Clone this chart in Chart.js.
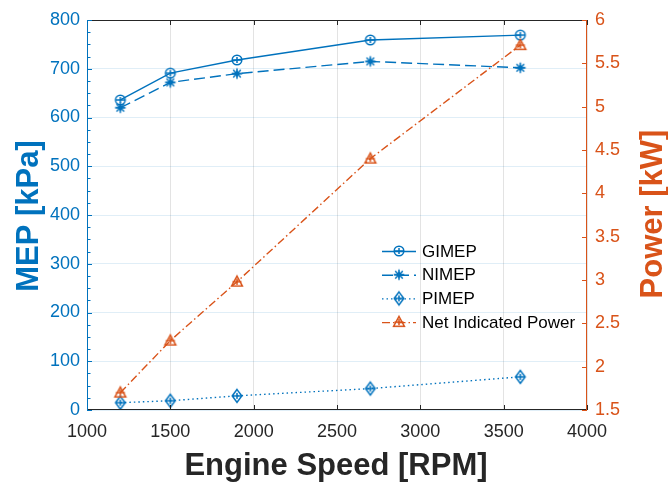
<!DOCTYPE html>
<html>
<head>
<meta charset="utf-8">
<script src="https://cdn.jsdelivr.net/npm/chart.js@4.4.1/dist/chart.umd.min.js"></script>
<style>
  html, body { margin: 0; padding: 0; background: #ffffff; }
  canvas { display: block; }
</style>
</head>
<body>
<canvas id="chart" width="668" height="483"></canvas>
<script>
// Engine speed sweep [RPM]
const engineSpeed = [1200, 1500, 1900, 2700, 3600];
// Mean effective pressures [kPa]
const gimep = [636, 691, 718, 759, 769];
const nimep = [620, 672, 690, 715, 702];
const pimep = [15, 19, 29, 44, 68];
// Net indicated power [kW]
const netPower = [1.70, 2.30, 2.98, 4.40, 5.71];

// Axis ranges and tick steps
const speedRange = [1000, 4000];
const speedStep = 500;
const mepRange = [0, 800];
const mepStep = 100;
const mepMinorStep = 25;
const powerRange = [1.5, 6];
const powerStep = 0.5;

const BLUE = '#0072BD';
const ORANGE = '#D95319';
const DARK = '#262626';
const FONT = "'Liberation Sans', Arial, Helvetica, sans-serif";

// Marker glyphs: outline shape with a small error-bar cross through the centre
function makeMarker(shape, color) {
  const c = document.createElement('canvas');
  c.width = 20; c.height = 20;
  const g = c.getContext('2d');
  g.strokeStyle = color;
  g.lineWidth = 1.5;
  g.lineJoin = 'miter';
  const cx = 10, cy = 10;
  g.beginPath();
  if (shape === 'circle') {
    g.arc(cx, cy, 4.8, 0, Math.PI * 2);
  } else if (shape === 'diamond') {
    g.moveTo(cx, cy - 6.4); g.lineTo(cx + 4.8, cy); g.lineTo(cx, cy + 6.4); g.lineTo(cx - 4.8, cy); g.closePath();
  } else if (shape === 'triangle') {
    g.moveTo(cx, cy - 5.6); g.lineTo(cx + 5.4, cy + 4.2); g.lineTo(cx - 5.4, cy + 4.2); g.closePath();
  } else if (shape === 'star') {
    const r = 5.3;
    g.moveTo(cx - r, cy); g.lineTo(cx + r, cy);
    g.moveTo(cx, cy - r); g.lineTo(cx, cy + r);
    const d = r * 0.72;
    g.moveTo(cx - d, cy - d); g.lineTo(cx + d, cy + d);
    g.moveTo(cx - d, cy + d); g.lineTo(cx + d, cy - d);
  }
  g.stroke();
  // error bar (very small extent) drawn through the marker
  g.beginPath();
  g.moveTo(cx - 4.5, cy); g.lineTo(cx + 4.5, cy);
  g.moveTo(cx, cy - 3); g.lineTo(cx, cy + 3);
  g.stroke();
  return c;
}

function pts(xs, ys) { return xs.map((x, i) => ({ x: x, y: ys[i] })); }

const datasets = [
  {
    label: 'GIMEP', data: pts(engineSpeed, gimep), yAxisID: 'y',
    borderColor: BLUE, borderWidth: 1.4, borderDash: [],
    pointStyle: makeMarker('circle', BLUE), order: 4
  },
  {
    label: 'NIMEP', data: pts(engineSpeed, nimep), yAxisID: 'y',
    borderColor: BLUE, borderWidth: 1.4, borderDash: [11, 5],
    pointStyle: makeMarker('star', BLUE), order: 3
  },
  {
    label: 'PIMEP', data: pts(engineSpeed, pimep), yAxisID: 'y',
    borderColor: BLUE, borderWidth: 1.4, borderDash: [1.5, 3],
    pointStyle: makeMarker('diamond', BLUE), order: 2
  },
  {
    label: 'Net Indicated Power', data: pts(engineSpeed, netPower), yAxisID: 'y2',
    borderColor: ORANGE, borderWidth: 1.4, borderDash: [8, 3, 1.5, 3],
    pointStyle: makeMarker('triangle', ORANGE), order: 1
  }
];
datasets.forEach(d => {
  d.fill = false; d.tension = 0; d.pointRadius = 6; d.pointHoverRadius = 6;
  d.backgroundColor = 'transparent';
});

// Inward ticks, box outline, axis titles and legend
const decorations = {
  id: 'decorations',
  afterDraw(chart) {
    const ctx = chart.ctx;
    const a = chart.chartArea;
    const sx = chart.scales.x, sy = chart.scales.y, sy2 = chart.scales.y2;
    ctx.save();
    ctx.lineWidth = 1;

    // top and bottom edges with speed ticks
    ctx.strokeStyle = DARK;
    ctx.beginPath();
    ctx.moveTo(a.left, a.top + 0.5); ctx.lineTo(a.right, a.top + 0.5);
    ctx.moveTo(a.left, a.bottom - 0.5); ctx.lineTo(a.right, a.bottom - 0.5);
    for (let v = speedRange[0]; v <= speedRange[1]; v += speedStep) {
      const px = Math.round(sx.getPixelForValue(v)) + 0.5;
      ctx.moveTo(px, a.bottom); ctx.lineTo(px, a.bottom - 5);
      ctx.moveTo(px, a.top); ctx.lineTo(px, a.top + 5);
    }
    ctx.stroke();

    // left MEP axis with minor ticks
    ctx.strokeStyle = BLUE;
    ctx.beginPath();
    ctx.moveTo(a.left + 0.5, a.top); ctx.lineTo(a.left + 0.5, a.bottom);
    for (let v = mepRange[0]; v <= mepRange[1] + 1e-9; v += mepMinorStep) {
      const py = Math.round(sy.getPixelForValue(v)) + 0.5;
      const len = (v % mepStep === 0) ? 5 : 3.5;
      ctx.moveTo(a.left, py); ctx.lineTo(a.left + len, py);
    }
    ctx.stroke();

    // right power axis
    ctx.strokeStyle = ORANGE;
    ctx.beginPath();
    ctx.moveTo(a.right - 0.5, a.top); ctx.lineTo(a.right - 0.5, a.bottom);
    for (let v = powerRange[0]; v <= powerRange[1] + 1e-9; v += powerStep) {
      const py = Math.round(sy2.getPixelForValue(v)) + 0.5;
      ctx.moveTo(a.right, py); ctx.lineTo(a.right - 5, py);
    }
    ctx.stroke();

    // axis titles
    ctx.font = 'bold 31px ' + FONT;
    ctx.textAlign = 'center';
    ctx.textBaseline = 'alphabetic';
    ctx.fillStyle = DARK;
    ctx.fillText('Engine Speed [RPM]', 336, 475);

    ctx.fillStyle = BLUE;
    ctx.save();
    ctx.translate(38, 216);
    ctx.rotate(-Math.PI / 2);
    ctx.fillText('MEP [kPa]', 0, 0);
    ctx.restore();

    ctx.fillStyle = ORANGE;
    ctx.save();
    ctx.translate(662, 214);
    ctx.rotate(-Math.PI / 2);
    ctx.fillText('Power [kW]', 0, 0);
    ctx.restore();

    // legend (no box) inside the plot area
    const lx0 = 382, lx1 = 416, tx = 422;
    let ly = 251;
    ctx.font = '17px ' + FONT;
    ctx.textAlign = 'left';
    ctx.textBaseline = 'middle';
    chart.data.datasets.forEach(ds => {
      ctx.strokeStyle = ds.borderColor;
      ctx.lineWidth = ds.borderWidth;
      ctx.setLineDash(ds.borderDash);
      ctx.beginPath();
      ctx.moveTo(lx0, ly + 0.5); ctx.lineTo(lx1, ly + 0.5);
      ctx.stroke();
      ctx.setLineDash([]);
      const img = ds.pointStyle;
      ctx.drawImage(img, (lx0 + lx1) / 2 - img.width / 2, ly - img.height / 2);
      ctx.fillStyle = '#000000';
      ctx.fillText(ds.label, tx, ly + 1);
      ly += 23.7;
    });
    ctx.restore();
  }
};

new Chart(document.getElementById('chart'), {
  type: 'line',
  data: { datasets: datasets },
  options: {
    responsive: false,
    animation: false,
    events: [],
    layout: { padding: { top: 20, left: 0, right: 0, bottom: 0 } },
    plugins: { legend: { display: false }, tooltip: { enabled: false } },
    scales: {
      x: {
        type: 'linear', position: 'bottom',
        min: speedRange[0], max: speedRange[1],
        afterFit(s) { s.height = 73; },
        border: { display: false },
        grid: { color: 'rgba(38,38,38,0.13)', drawTicks: false, lineWidth: 1 },
        ticks: {
          stepSize: speedStep, padding: 11, color: DARK,
          font: { family: FONT, size: 18 },
          callback: v => String(v)
        }
      },
      y: {
        type: 'linear', position: 'left',
        min: mepRange[0], max: mepRange[1],
        afterFit(s) { s.width = 87; },
        border: { display: false },
        grid: { color: 'rgba(0,114,189,0.12)', drawTicks: false, lineWidth: 1 },
        ticks: {
          stepSize: mepStep, padding: 7, color: BLUE,
          font: { family: FONT, size: 18 },
          callback: v => String(v)
        }
      },
      y2: {
        type: 'linear', position: 'right',
        min: powerRange[0], max: powerRange[1],
        afterFit(s) { s.width = 81; },
        border: { display: false },
        grid: { drawOnChartArea: false, drawTicks: false },
        ticks: {
          stepSize: powerStep, padding: 8, color: ORANGE,
          font: { family: FONT, size: 18 },
          callback: v => String(v)
        }
      }
    }
  },
  plugins: [decorations]
});
</script>
</body>
</html>
